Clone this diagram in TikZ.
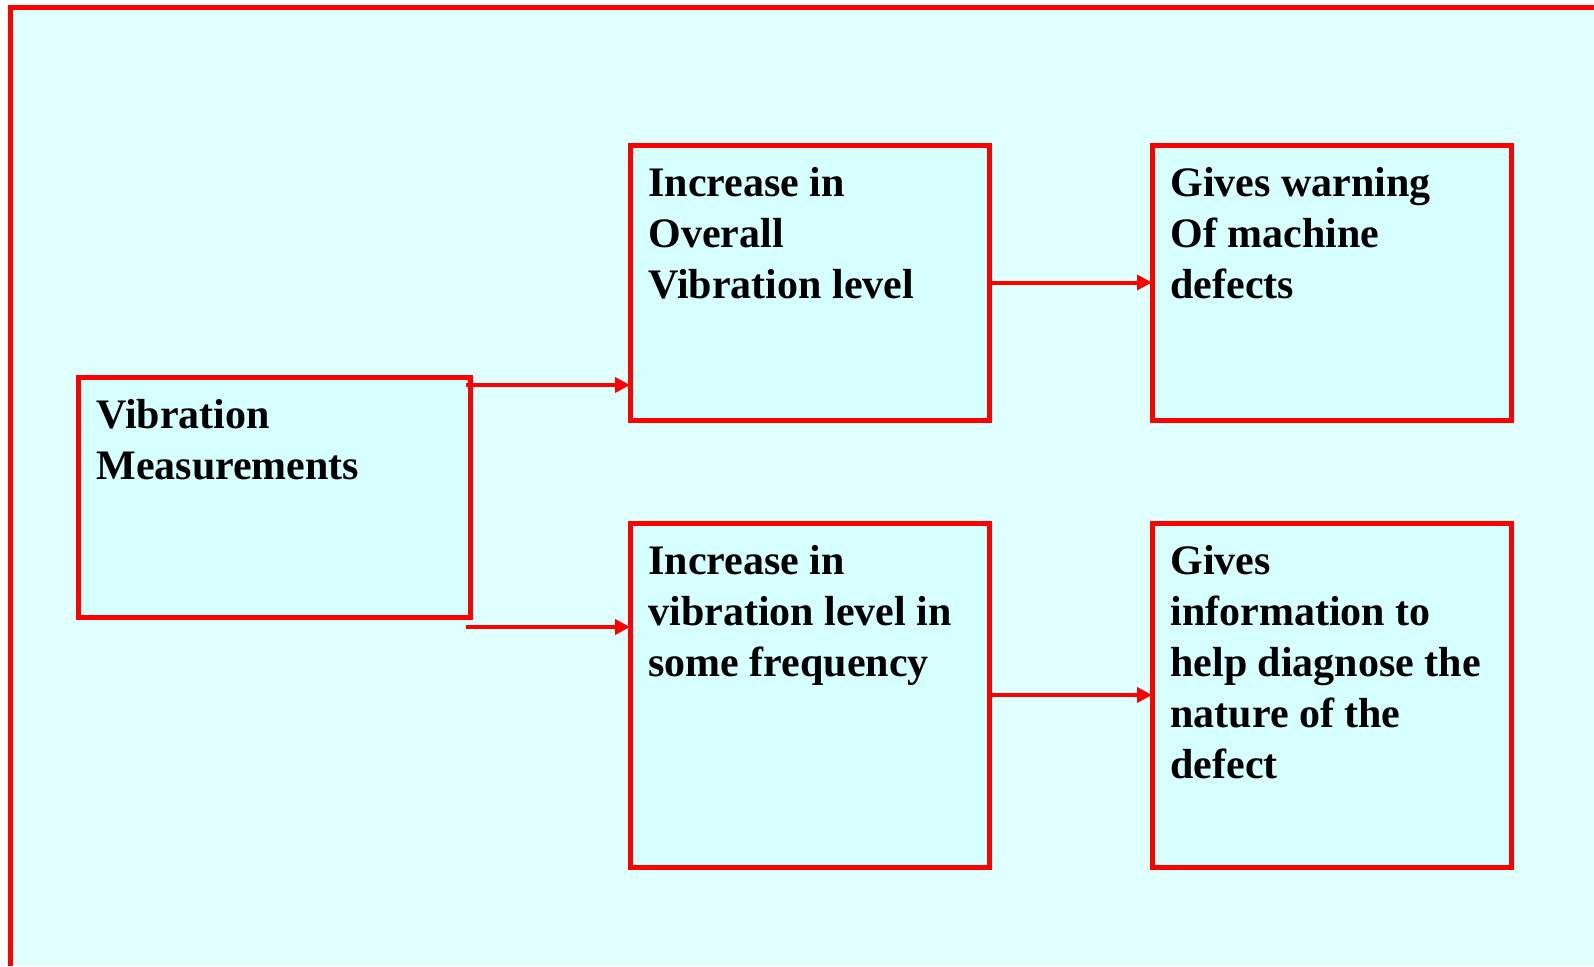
\documentclass[tikz,border=0pt]{standalone}
\usepackage{fontspec}
\setmainfont{Liberation Serif}
\usetikzlibrary{arrows.meta,calc}
\definecolor{bgcol}{HTML}{E0FFFF}
\definecolor{boxfill}{HTML}{D6FFFF}
\definecolor{redline}{HTML}{FF0000}
\newcommand{\boxlines}[1]{\begin{tabular}[t]{@{}l@{}}#1\end{tabular}}
\tikzset{
  flowbox/.style={draw=redline, line width=2.5pt, fill=boxfill, rectangle, inner sep=0pt, outer sep=0pt},
  boxtext/.style={anchor=base west, inner sep=0pt, font=\fontsize{21pt}{25.5pt}\selectfont\bfseries},
  flowarrow/.style={draw=redline, line width=2pt, -{Triangle[length=7.5pt,width=7.5pt]}}
}
\begin{document}
\begin{tikzpicture}[x=0.5pt,y=-0.5pt]
\useasboundingbox (0,0) rectangle (1594,966);
\fill[bgcol] (8,5) rectangle (1594,966);
\draw[redline, line width=2.5pt] (10.5,966) -- (10.5,7.5) -- (1594,7.5);

\node[flowbox, minimum width=196pt, minimum height=120pt] (b1) at (274,497) {};
\node[flowbox, minimum width=179.5pt, minimum height=137.5pt] (b2) at (809.5,282.5) {};
\node[flowbox, minimum width=179.5pt, minimum height=137.5pt] (b3) at (1331.5,282.5) {};
\node[flowbox, minimum width=179.5pt, minimum height=172pt] (b4) at (809.5,695) {};
\node[flowbox, minimum width=179.5pt, minimum height=172pt] (b5) at (1331.5,695) {};

\node[boxtext] (t1) at ($(b1.north west)+(18,51)$) {\boxlines{Vibration\\Measurements}};
\node[boxtext] (t2) at ($(b2.north west)+(18,51)$) {\boxlines{Increase in\\Overall\\Vibration level}};
\node[boxtext] (t3) at ($(b3.north west)+(18,51)$) {\boxlines{Gives warning\\Of machine\\defects}};
\node[boxtext] (t4) at ($(b4.north west)+(18,51)$) {\boxlines{Increase in\\vibration level in\\some frequency}};
\node[boxtext] (t5) at ($(b5.north west)+(18,51)$) {\boxlines{Gives\\information to\\help diagnose the\\nature of the\\defect}};

\coordinate (s1) at ($(b1.north east)+(-4,8)$);
\coordinate (s2) at ($(b1.south east)+(-4,10)$);
\draw[flowarrow] (s1) -- (s1 -| b2.west);
\draw[flowarrow] (s2) -- (s2 -| b4.west);
\draw[flowarrow] (b2.east) -- (b3.west);
\draw[flowarrow] (b4.east) -- (b5.west);
\end{tikzpicture}
\end{document}
